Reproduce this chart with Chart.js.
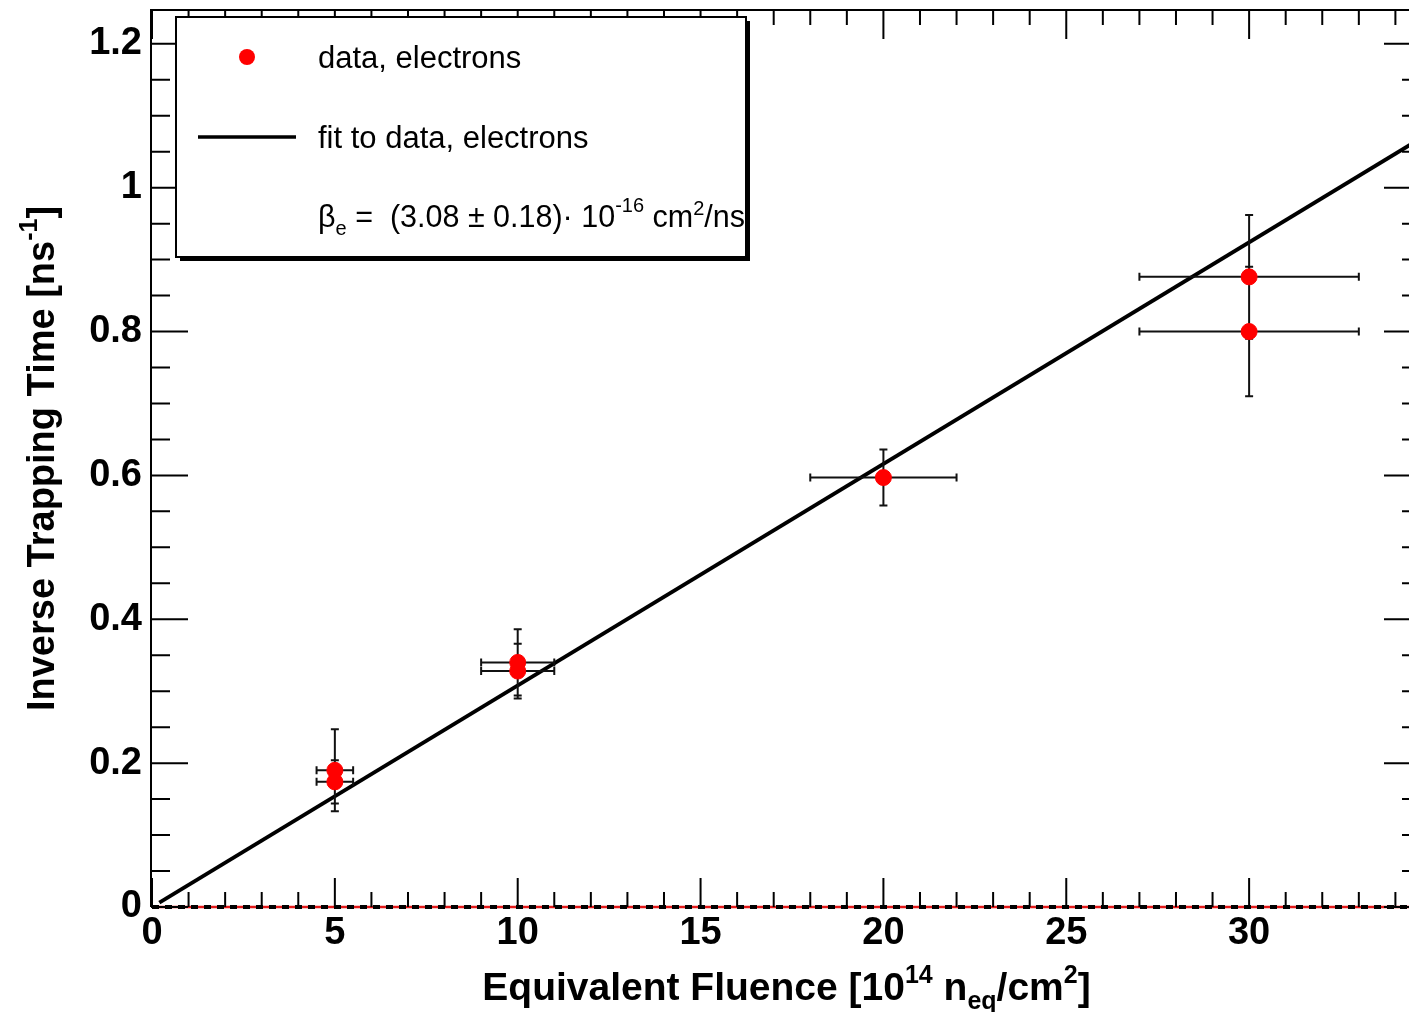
<!DOCTYPE html>
<html>
<head>
<meta charset="utf-8">
<title>Inverse trapping time vs fluence</title>
<script src="https://cdn.jsdelivr.net/npm/chart.js@4.4.1/dist/chart.umd.min.js"></script>
<style>
  html, body { margin: 0; padding: 0; background: #fff; overflow: hidden; }
  #wrap { width: 1430px; height: 1012px; }
</style>
</head>
<body>
<div id="wrap"><canvas id="trapChart" width="1430" height="1012"></canvas></div>
<script>
// fluence in 1e14 neq/cm^2, inverse trapping time in 1/ns
const fluence     = [5, 5, 10, 10, 20, 30, 30];
const fluenceErr  = [0.5, 0.5, 1, 1, 2, 3, 3];
const invTrapTime = [0.190, 0.174, 0.340, 0.328, 0.597, 0.876, 0.800];
const invTrapErr  = [0.057, 0.030, 0.046, 0.038, 0.039, 0.086, 0.090];

// linear fit through the origin, beta_e in 1e-16 cm^2/ns
const betaE = 3.08;
const betaEErr = 0.18;
const fitRange = [0.2, 34.7];

const xTicks = [0, 5, 10, 15, 20, 25, 30];
const yTicks = [0, 0.2, 0.4, 0.6, 0.8, 1, 1.2];
const xRange = [0, 34.7];
const yRange = [0, 1.247];

const FONT = '"Liberation Sans", Arial, Helvetica, sans-serif';

const points = fluence.map((x, i) => ({ x: x, y: invTrapTime[i] }));
// beta_e * 1e-16 cm^2/ns times fluence in 1e14 cm^-2
const fitLine = fitRange.map(x => ({ x: x, y: betaE / 100 * x }));
const zeroLine = xRange.map(x => ({ x: x, y: 0 }));

// draws a run of text pieces (sub/superscripts) starting at x
function drawRich(ctx, segs, x, y, align) {
  let total = 0;
  segs.forEach(s => {
    ctx.font = (s.bold ? 'bold ' : '') + s.size + 'px ' + (s.family || FONT);
    s.w = ctx.measureText(s.t).width;
    total += s.w;
  });
  let cx = x;
  if (align === 'center') cx = x - total / 2;
  if (align === 'right') cx = x - total;
  segs.forEach(s => {
    ctx.font = (s.bold ? 'bold ' : '') + s.size + 'px ' + (s.family || FONT);
    ctx.fillText(s.t, cx, y + (s.dy || 0));
    cx += s.w;
  });
}

const rootStyle = {
  id: 'rootStyle',
  beforeDatasetDraw(chart, args) {
    if (args.index !== 0) return;
    const ctx = chart.ctx;
    const xs = chart.scales.x, ys = chart.scales.y;
    ctx.save();
    ctx.strokeStyle = '#111';
    ctx.lineWidth = 2;
    ctx.beginPath();
    fluence.forEach((x, i) => {
      const px = xs.getPixelForValue(x);
      const py = ys.getPixelForValue(invTrapTime[i]);
      const x0 = xs.getPixelForValue(x - fluenceErr[i]);
      const x1 = xs.getPixelForValue(x + fluenceErr[i]);
      const y0 = ys.getPixelForValue(invTrapTime[i] - invTrapErr[i]);
      const y1 = ys.getPixelForValue(invTrapTime[i] + invTrapErr[i]);
      ctx.moveTo(x0, py); ctx.lineTo(x1, py);
      ctx.moveTo(x0, py - 4); ctx.lineTo(x0, py + 4);
      ctx.moveTo(x1, py - 4); ctx.lineTo(x1, py + 4);
      ctx.moveTo(px, y0); ctx.lineTo(px, y1);
      ctx.moveTo(px - 4, y0); ctx.lineTo(px + 4, y0);
      ctx.moveTo(px - 4, y1); ctx.lineTo(px + 4, y1);
    });
    ctx.stroke();
    ctx.restore();
  },
  afterDraw(chart) {
    const ctx = chart.ctx;
    const a = chart.chartArea;
    const xs = chart.scales.x, ys = chart.scales.y;
    ctx.save();
    ctx.strokeStyle = '#000';
    ctx.fillStyle = '#000';

    // frame (bottom edge is the dashed zero line)
    ctx.lineWidth = 2;
    ctx.beginPath();
    ctx.moveTo(a.left - 1, a.bottom); ctx.lineTo(a.left - 1, a.top);
    ctx.lineTo(a.right, a.top); ctx.lineTo(a.right, a.bottom);
    ctx.stroke();

    // ticks on all four sides, pointing inward
    ctx.lineWidth = 2;
    ctx.beginPath();
    for (let v = 0; v <= xRange[1]; v += 1) {
      const px = xs.getPixelForValue(v);
      const len = (v % 5 === 0) ? 29 : 15;
      ctx.moveTo(px, a.bottom); ctx.lineTo(px, a.bottom - len);
      ctx.moveTo(px, a.top); ctx.lineTo(px, a.top + len);
    }
    for (let k = 0; k * 0.05 <= yRange[1]; k++) {
      const py = ys.getPixelForValue(k * 0.05);
      const len = (k % 4 === 0) ? 37 : 19;
      ctx.moveTo(a.left - 1, py); ctx.lineTo(a.left - 1 + len, py);
      ctx.moveTo(a.right, py); ctx.lineTo(a.right - len, py);
    }
    ctx.stroke();

    // tick labels
    ctx.textBaseline = 'middle';
    ctx.font = 'bold 38px ' + FONT;
    ctx.textAlign = 'center';
    xTicks.forEach(v => ctx.fillText(String(v), xs.getPixelForValue(v), a.bottom + 27));
    ctx.font = 'bold 38px ' + FONT;
    ctx.textAlign = 'right';
    yTicks.forEach(v => ctx.fillText(String(v), a.left - 10, ys.getPixelForValue(v)));

    // axis titles
    ctx.textAlign = 'left';
    ctx.textBaseline = 'alphabetic';
    drawRich(ctx, [
      { t: 'Equivalent Fluence [10', size: 39, bold: true },
      { t: '14', size: 25, bold: true, dy: -17 },
      { t: ' n', size: 39, bold: true },
      { t: 'eq', size: 25, bold: true, dy: 9 },
      { t: '/cm', size: 39, bold: true },
      { t: '2', size: 25, bold: true, dy: -17 },
      { t: ']', size: 39, bold: true }
    ], (a.left + a.right) / 2, 1000, 'center');

    ctx.save();
    ctx.translate(54, (a.top + a.bottom) / 2);
    ctx.rotate(-Math.PI / 2);
    drawRich(ctx, [
      { t: 'Inverse Trapping Time [ns', size: 38, bold: true },
      { t: '-1', size: 25, bold: true, dy: -17 },
      { t: ']', size: 38, bold: true }
    ], 0, 0, 'center');
    ctx.restore();

    // legend box with drop shadow
    const bx = 176, by = 17, bw = 570, bh = 240;
    ctx.fillRect(bx + 4, by + 4, bw, bh);
    ctx.fillStyle = '#fff';
    ctx.fillRect(bx, by, bw, bh);
    ctx.lineWidth = 2;
    ctx.strokeRect(bx, by, bw, bh);

    ctx.fillStyle = '#ff0000';
    ctx.beginPath();
    ctx.arc(247, 57, 8, 0, Math.PI * 2);
    ctx.fill();
    ctx.strokeStyle = '#000';
    ctx.lineWidth = 3.5;
    ctx.beginPath();
    ctx.moveTo(198, 137); ctx.lineTo(296, 137);
    ctx.stroke();

    ctx.fillStyle = '#000';
    ctx.textBaseline = 'alphabetic';
    ctx.font = '31px ' + FONT;
    ctx.fillText('data, electrons', 318, 68);
    ctx.fillText('fit to data, electrons', 318, 148);
    drawRich(ctx, [
      { t: '\u03B2', size: 30.5 },
      { t: 'e', size: 20, dy: 8 },
      { t: ' =  (' + betaE.toFixed(2) + ' \u00B1 ' + betaEErr.toFixed(2) + ')\u00B7 10', size: 30.5 },
      { t: '-16', size: 20, dy: -15 },
      { t: ' cm', size: 30.5 },
      { t: '2', size: 20, dy: -12 },
      { t: '/ns', size: 30.5 }
    ], 318, 227, 'left');

    ctx.restore();
  }
};

new Chart(document.getElementById('trapChart'), {
  type: 'scatter',
  data: {
    datasets: [
      {
        label: 'data, electrons',
        data: points,
        showLine: false,
        pointRadius: 8,
        pointStyle: 'circle',
        backgroundColor: '#ff0000',
        borderColor: '#ff0000',
        borderWidth: 1
      },
      {
        label: 'fit to data, electrons',
        data: fitLine,
        showLine: true,
        pointRadius: 0,
        borderColor: '#000',
        borderWidth: 3.8,
        tension: 0
      },
      {
        data: zeroLine,
        showLine: true,
        pointRadius: 0,
        borderColor: '#000',
        borderWidth: 4,
        borderDash: [7, 6],
        clip: false
      },
      {
        data: zeroLine,
        showLine: true,
        pointRadius: 0,
        borderColor: '#e31a1a',
        borderWidth: 2.5,
        clip: false
      }
    ]
  },
  options: {
    responsive: false,
    animation: false,
    events: [],
    layout: { padding: { left: 152, top: 10, right: 7, bottom: 105 } },
    plugins: { legend: { display: false }, tooltip: { enabled: false } },
    scales: {
      x: { type: 'linear', display: false, min: xRange[0], max: xRange[1] },
      y: { type: 'linear', display: false, min: yRange[0], max: yRange[1] }
    }
  },
  plugins: [rootStyle]
});
</script>
</body>
</html>
